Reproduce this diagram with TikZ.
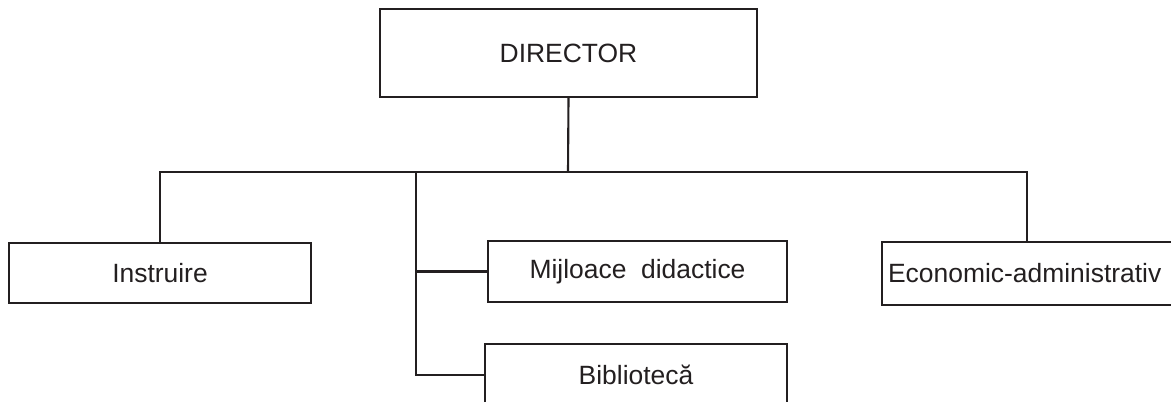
\documentclass[tikz,border=0pt]{standalone}
\usepackage{fontspec}
\setmainfont{Liberation Sans}
\usepackage{tikz}
\usetikzlibrary{positioning,calc}
\definecolor{inkgray}{RGB}{35,31,32}

\begin{document}
\begin{tikzpicture}[
        x=0.025cm, y=-0.025cm,
        font=\fontsize{18.8}{22}\selectfont,
        link/.style={draw=inkgray, line width=1.5pt},
        unit/.style={rectangle, draw=inkgray, line width=1.5pt, text=inkgray, inner sep=0pt, minimum width=#1},
        unit/.default=7.5cm,
        openunit/.style={unit=#1, draw=none},
    ]
        \useasboundingbox (0,0) rectangle (1171,402);
        \node[unit=9.425cm, minimum height=2.2cm] (dir) at (568.5,53) {DIRECTOR};
        \node[unit=7.55cm, minimum height=1.5cm] (instr) at (160,273) {Instruire};
        \node[unit=7.475cm, minimum height=1.525cm] (mij) at (637.5,271.5) {Mijloace\ \ didactice};
        \node[openunit=7.5cm, minimum height=1.5cm] (bib) at (636,375) {Bibliotecă};
        \node[openunit=0pt, minimum height=1.525cm, anchor=west, text width=9cm, align=left, inner xsep=0.125cm] (econ) at (882,273.5) {Economic-administrativ};
        % boxes cut by the page edge
        \draw[link] (bib.south west |- 0,402) |- (bib.north east) -- (bib.east |- 0,402);
        \draw[link] (econ.north west -| 1171,0) -| (econ.south west) -- (econ.south west -| 1171,0);
        % tree lines
        \coordinate (bus) at (568,172);
        \coordinate (trunk) at (416,172);
        \draw[link] (dir.south) -- (bus);
        \draw[link] (instr.north) |- (bus) -| ([xshift=3.625cm]econ.north west);
        \draw[link] (trunk) |- (mij.west);
        \draw[link] (trunk) |- (bib.west);
    \end{tikzpicture}
\end{document}
